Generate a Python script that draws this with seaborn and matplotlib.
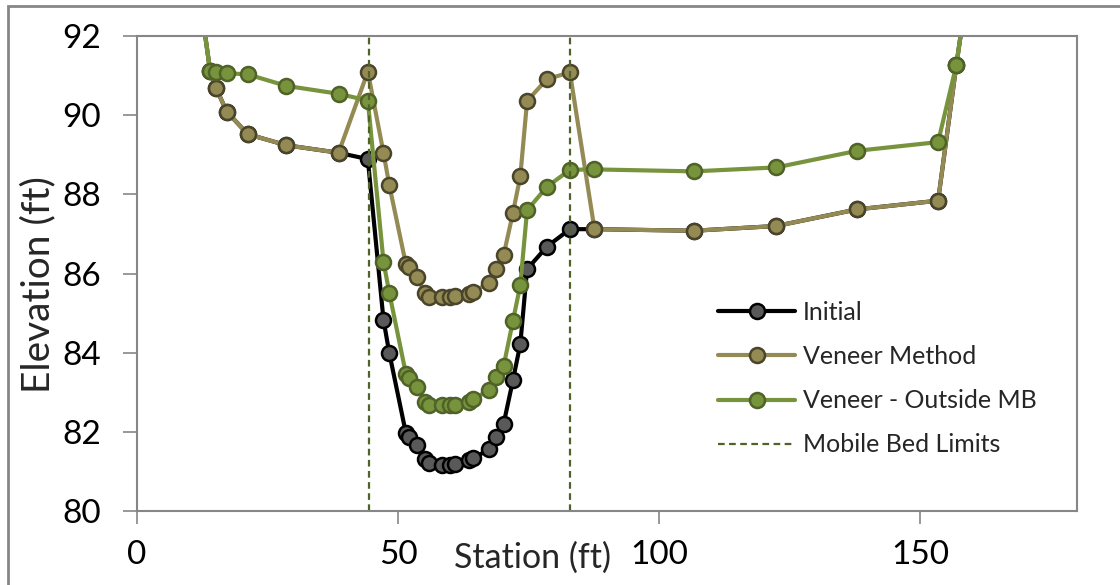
import matplotlib
matplotlib.use("Agg")
import matplotlib.pyplot as plt
import matplotlib.patches as mpatches
import seaborn as sns

# ---- data ----
station = [10.0, 14.0, 15.1, 17.2, 21.2, 28.6, 38.6, 44.2, 47.2, 48.3, 51.5, 52.0,
           53.6, 55.2, 56.0, 58.4, 60.0, 60.9, 63.5, 64.4, 67.4, 68.7, 70.2, 72.0,
           73.4, 74.7, 78.5, 82.9, 87.6, 106.6, 122.4, 137.9, 153.4, 156.9, 160.0]

initial = [94.9, 91.12, 90.69, 90.09, 89.52, 89.24, 89.05, 88.89, 84.83, 84.00, 81.96, 81.87,
           81.67, 81.31, 81.21, 81.17, 81.17, 81.19, 81.29, 81.33, 81.56, 81.88, 82.20, 83.31,
           84.22, 86.11, 86.68, 87.12, 87.12, 87.08, 87.20, 87.62, 87.84, 91.27, 94.1]

veneer = [94.9, 91.12, 90.69, 90.09, 89.52, 89.24, 89.05, 91.10, 89.05, 88.24, 86.23, 86.16,
          85.91, 85.50, 85.41, 85.40, 85.40, 85.43, 85.48, 85.53, 85.77, 86.11, 86.46, 87.54,
          88.46, 90.36, 90.91, 91.08, 87.12, 87.08, 87.20, 87.62, 87.84, 91.27, 94.1]

outside_mb = [94.9, 91.12, 91.10, 91.06, 91.03, 90.74, 90.54, 90.37, 86.30, 85.52, 83.46, 83.36,
              83.14, 82.76, 82.68, 82.68, 82.68, 82.68, 82.76, 82.82, 83.06, 83.39, 83.66, 84.81,
              85.71, 87.60, 88.19, 88.62, 88.63, 88.58, 88.68, 89.10, 89.32, 91.27, 94.1]

mb_limits = [44.4, 83.0]

series_labels = ["Initial", "Veneer Method", "Veneer - Outside MB", "Mobile Bed Limits"]
x_ticks = [0, 50, 100, 150]
y_ticks = [80, 82, 84, 86, 88, 90, 92]

# ---- style ----
sns.set_style("white")
plt.rcParams["font.family"] = ["Lato", "DejaVu Sans"]

grey = "#868686"
fig = plt.figure(figsize=(11.2, 5.85), dpi=100)
ax = fig.add_axes([137 / 1120, 1 - 511 / 585, 940 / 1120, 475 / 585])

# figure border (left/top visible)
fig.patches.append(mpatches.Rectangle((8 / 1120, -0.05), 1.2, 1 - 6 / 585 + 0.05,
                                      transform=fig.transFigure, fill=False,
                                      edgecolor=grey, linewidth=2))

common = dict(marker="o", markersize=10.8, markeredgewidth=1.8, linewidth=3.0,
              sort=False, ax=ax)
sns.lineplot(x=station, y=initial, color="black", markerfacecolor="#595959",
             markeredgecolor="black", label=series_labels[0], **common)
sns.lineplot(x=station, y=veneer, color="#948A54", markerfacecolor="#948A54",
             markeredgecolor="#4A452A", label=series_labels[1], **common)
sns.lineplot(x=station, y=outside_mb, color="#77933C", markerfacecolor="#77933C",
             markeredgecolor="#4F6228", label=series_labels[2], **common)

for i, xv in enumerate(mb_limits):
    ax.axvline(xv, color="#4F6228", linewidth=1.6, dashes=(3, 2),
               label=series_labels[3] if i == 0 else None)

ax.set_xlim(0, 180)
ax.set_ylim(80, 92)
ax.set_xticks(x_ticks)
ax.set_yticks(y_ticks)

for s in ax.spines.values():
    s.set_color(grey)
    s.set_linewidth(1.5)

ax.tick_params(axis="y", direction="out", length=10, width=1.2, color=grey,
               labelsize=24, pad=16, left=True)
ax.tick_params(axis="x", direction="out", length=9, width=1.2, color=grey,
               labelsize=24, pad=12, bottom=True)
for lab in ax.get_xticklabels() + ax.get_yticklabels():
    lab.set_color("black")

ax.set_xlabel("Station (ft)", fontsize=24.5, va="center")
ax.xaxis.set_label_coords(0.421, -0.099)
ax.set_ylabel("Elevation (ft)", fontsize=28, va="center")
ax.yaxis.set_label_coords(-0.105, 0.476)

leg = ax.legend(loc="upper left", bbox_to_anchor=(0.594, 0.49), frameon=False,
                fontsize=18, handlelength=3.1, handletextpad=0.3, labelspacing=0.85)

fig.savefig("out.png", dpi=100)
